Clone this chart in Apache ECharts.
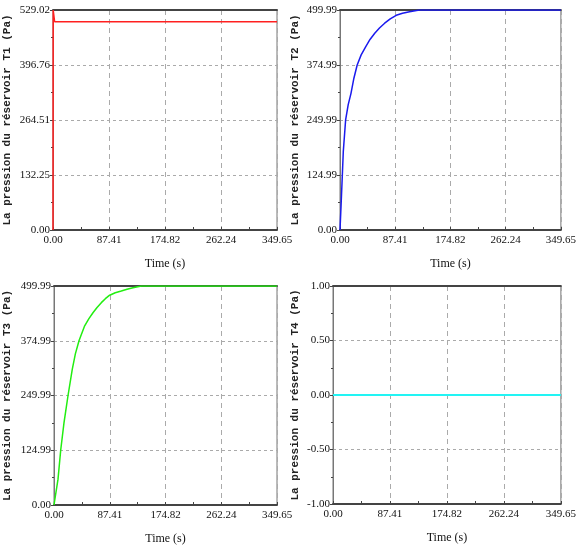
<!DOCTYPE html>
<html><head><meta charset="utf-8">
<script src="https://cdn.jsdelivr.net/npm/echarts@6/dist/echarts.min.js"></script>
<style>html,body{margin:0;padding:0;background:#fff}#c{width:579px;height:549px}</style>
</head><body><div id="c"></div>
<script>
// ---- data ----
const xTickLabels = ['0.00','87.41','174.82','262.24','349.65'];
const xMax = 349.65;
const y1TickLabels = ['0.00','132.25','264.51','396.76','529.02'];
const y2TickLabels = ['0.00','124.99','249.99','374.99','499.99'];
const y3TickLabels = ['0.00','124.99','249.99','374.99','499.99'];
const y4TickLabels = ['-1.00','-0.50','0.00','0.50','1.00'];
const yNames = [
  'La pression du réservoir T1 (Pa)',
  'La pression du réservoir T2 (Pa)',
  'La pression du réservoir T3 (Pa)',
  'La pression du réservoir T4 (Pa)'
];
const xName = 'Time (s)';

const t1Time = [0, 0.3, 2.5, 349.65];
const t1Val  = [0, 529.02, 501, 501];

const t2Time = [0, 1.6, 3.7, 5.2, 8.9, 13, 17.3, 22, 27.2, 33.5, 40.8, 47.5, 55, 62.5, 70.7, 79.5, 89, 99, 110, 125.6, 349.65];
const t2Val  = [0, 53, 125, 178, 250, 285, 310, 345, 375, 398, 417, 433, 447, 459, 470, 480, 488, 492.5, 496, 499.99, 499.99];

const t3Time = [0, 6.3, 10.5, 15.7, 22, 28.7, 33.5, 39.2, 48.1, 54.5, 61.1, 67.5, 74.2, 80.5, 87.3, 96, 105.5, 114.5, 123.8, 137, 349.65];
const t3Val  = [0, 59, 125, 188, 250, 310, 345, 375, 409, 425, 439, 451, 462, 471, 479, 484.5, 488.5, 492.5, 496, 499.99, 499.99];

const t4Time = [0, 349.65];
const t4Val  = [0, 0];

const colors = ['#ff2020', '#1a1aee', '#22ee11', '#22f4f4'];

// ---- build ----
const zip = (a, b) => a.map((v, i) => [v, b[i]]);
const grids = [
  {left: 53, top: 10, width: 224, height: 220},
  {left: 340, top: 10, width: 223, height: 220},
  {left: 54, top: 286, width: 223, height: 219},
  {left: 333, top: 286, width: 229, height: 218}
];
const nameGaps = [40, 39, 41, 32];
const yConf = [
  {min: 0, max: 529.02, labels: y1TickLabels},
  {min: 0, max: 499.99, labels: y2TickLabels},
  {min: 0, max: 499.99, labels: y3TickLabels},
  {min: -1, max: 1, labels: y4TickLabels}
];
const seriesData = [zip(t1Time, t1Val), zip(t2Time, t2Val), zip(t3Time, t3Val), zip(t4Time, t4Val)];
const serif = 'Liberation Serif';
const xInt = xMax / 4;

const option = {
  animation: false,
  backgroundColor: '#fff',
  grid: grids.map(g => Object.assign({show: true, borderColor: '#777', borderWidth: 1}, g)),
  xAxis: [],
  yAxis: [],
  series: []
};
for (let i = 0; i < 4; i++) {
  option.xAxis.push({
    type: 'value', gridIndex: i, min: 0, max: xMax, interval: xInt,
    name: xName, nameLocation: 'middle', nameGap: 28,
    nameTextStyle: {fontFamily: serif, fontSize: 12, color: '#111'},
    axisLine: {show: true, onZero: false, lineStyle: {color: '#444', width: 2}},
    axisTick: {show: true, inside: true, length: 3, lineStyle: {color: '#444'}},
    minorTick: {show: true, splitNumber: 2, length: 3, lineStyle: {color: '#444'}},
    axisLabel: {fontFamily: serif, fontSize: 11, color: '#111', margin: 5,
      formatter: v => xTickLabels[Math.round(v / xInt)]},
    splitLine: {show: true, lineStyle: {color: '#aaa', type: [5, 4], width: 1}}
  });
  // top border axis (thicker dark line)
  option.xAxis.push({
    type: 'value', gridIndex: i, min: 0, max: xMax, position: 'top',
    axisLine: {show: true, onZero: false, lineStyle: {color: '#444', width: 2}},
    axisTick: {show: false}, axisLabel: {show: false}, splitLine: {show: false}
  });
  const yc = yConf[i];
  const yInt = (yc.max - yc.min) / 4;
  option.yAxis.push({
    type: 'value', gridIndex: i, min: yc.min, max: yc.max, interval: yInt,
    name: yNames[i], nameLocation: 'middle', nameGap: nameGaps[i], nameRotate: 90,
    nameTextStyle: {fontFamily: 'Liberation Mono', fontWeight: 'bold', fontSize: 11, color: '#222'},
    axisLine: {show: true, onZero: false, lineStyle: {color: '#777', width: 1}},
    axisTick: {show: true, inside: false, length: 3, lineStyle: {color: '#444'}},
    minorTick: {show: true, splitNumber: 2, length: 2, lineStyle: {color: '#444'}},
    axisLabel: {fontFamily: serif, fontSize: 11, color: '#111', margin: 3,
      formatter: v => yc.labels[Math.round((v - yc.min) / yInt)]},
    splitLine: {show: true, lineStyle: {color: '#aaa', type: [3, 3], width: 1}}
  });
  option.series.push({
    type: 'line', xAxisIndex: i * 2, yAxisIndex: i, data: seriesData[i],
    showSymbol: false, smooth: false,
    lineStyle: {color: colors[i], width: i === 3 ? 2 : 1.5}, z: 5
  });
}
const chart = echarts.init(document.getElementById('c'), null, {renderer: 'canvas'});
chart.setOption(option);
</script>
</body></html>
